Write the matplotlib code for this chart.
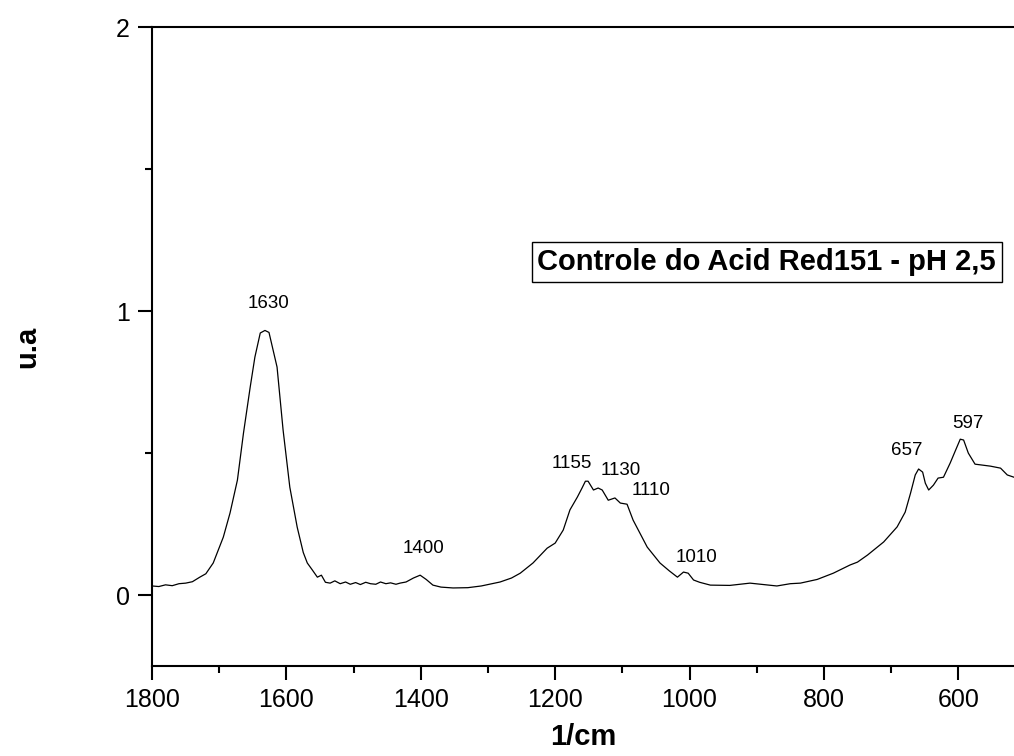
import matplotlib
matplotlib.use("Agg")
import matplotlib.pyplot as plt
from matplotlib.ticker import MultipleLocator

plt.rcParams['font.family'] = ['Liberation Sans', 'DejaVu Sans']

# spectrum (wavenumber 1/cm, intensity u.a)
wavenumber = [1800, 1790, 1780, 1770, 1760, 1750, 1740, 1729, 1720, 1709,
              1694, 1684, 1673, 1664, 1654, 1647, 1639, 1632, 1626, 1614,
              1605, 1595, 1584, 1575, 1569, 1562, 1554, 1548, 1542, 1535,
              1528, 1520, 1512, 1505, 1497, 1490, 1482, 1475, 1467, 1460,
              1452, 1445, 1437, 1431, 1422, 1411, 1401, 1392, 1382, 1370,
              1352, 1330, 1310, 1282, 1265, 1252, 1233, 1212, 1200, 1188,
              1178, 1167, 1160, 1155, 1151, 1143, 1136, 1130, 1121, 1111,
              1103, 1093, 1084, 1063, 1044, 1030, 1018, 1009, 1002, 994,
              985, 969, 940, 910, 890, 870, 850, 835, 810, 786,
              761, 750, 735, 711, 691, 679, 671, 664, 659, 653,
              649, 644, 637, 630, 622, 612, 604, 597, 592, 585,
              575, 565, 552, 537, 527, 517]
intensity = [0.032, 0.030, 0.036, 0.033, 0.040, 0.042, 0.047, 0.063, 0.075, 0.113,
             0.204, 0.289, 0.405, 0.570, 0.732, 0.838, 0.923, 0.932, 0.925, 0.803,
             0.581, 0.380, 0.239, 0.150, 0.113, 0.090, 0.063, 0.070, 0.045, 0.042,
             0.050, 0.040, 0.046, 0.038, 0.044, 0.037, 0.045, 0.040, 0.038, 0.046,
             0.040, 0.043, 0.038, 0.042, 0.046, 0.060, 0.070, 0.055, 0.035, 0.028,
             0.025, 0.026, 0.032, 0.046, 0.060, 0.077, 0.113, 0.165, 0.183, 0.229,
             0.300, 0.345, 0.377, 0.401, 0.401, 0.370, 0.377, 0.370, 0.334, 0.342,
             0.324, 0.320, 0.264, 0.169, 0.113, 0.085, 0.063, 0.081, 0.077, 0.053,
             0.045, 0.035, 0.034, 0.042, 0.037, 0.032, 0.040, 0.042, 0.055, 0.077,
             0.106, 0.116, 0.141, 0.187, 0.240, 0.292, 0.359, 0.423, 0.444, 0.433,
             0.394, 0.370, 0.387, 0.412, 0.415, 0.465, 0.510, 0.549, 0.546, 0.500,
             0.461, 0.458, 0.454, 0.447, 0.423, 0.415]

peak_labels = ['1630', '1400', '1155', '1130', '1110', '1010', '657', '597']
peak_x = [1627, 1396, 1175, 1103, 1058, 989, 676, 585]
peak_y = [1.028, 0.165, 0.465, 0.44, 0.37, 0.134, 0.51, 0.606]

title = 'Controle do Acid Red151 - pH 2,5'

fig = plt.figure(figsize=(10.14, 7.56), dpi=100)
ax = fig.add_axes([0.150, 0.119, 0.850, 0.845])

ax.plot(wavenumber, intensity, color='black', linewidth=0.9)

ax.set_xlim(1800, 517)
ax.set_ylim(-0.25, 2)
ax.xaxis.set_major_locator(MultipleLocator(200))
ax.xaxis.set_minor_locator(MultipleLocator(100))
ax.yaxis.set_major_locator(MultipleLocator(1))
ax.yaxis.set_minor_locator(MultipleLocator(0.5))

ax.spines['right'].set_visible(False)
for s in ['left', 'bottom', 'top']:
    ax.spines[s].set_linewidth(1.5)
ax.tick_params(which='major', direction='out', length=10, width=1.5,
               labelsize=18, pad=6)
ax.tick_params(which='minor', direction='out', length=5, width=1.5)
ax.tick_params(axis='x', which='both', top=False)

for lab, px, py in zip(peak_labels, peak_x, peak_y):
    ax.text(px, py, lab, fontsize=13.5, ha='center', va='center')

ax.text(0.447, 0.632, title, transform=ax.transAxes, fontsize=21,
        fontweight='bold', ha='left', va='center',
        bbox=dict(boxstyle='square,pad=0.2', facecolor='white',
                  edgecolor='black', linewidth=1.0))

ax.set_xlabel('1/cm', fontsize=21, fontweight='bold', labelpad=8)
ax.set_ylabel('u.a', fontsize=21, fontweight='bold', labelpad=54)

plt.savefig('out.png', dpi=100)
